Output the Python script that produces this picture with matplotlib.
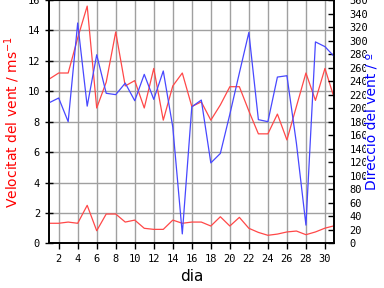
import numpy as np
from matplotlib import pyplot as plt

# days of the month
dies = list(range(1, 32))

# gust speed (m/s)
ratxa = [10.8, 11.2, 11.2, 13.5, 15.6, 8.9, 10.6, 13.9, 10.35, 10.7,
         8.9, 11.5, 8.1, 10.35, 11.2, 9.0, 9.3, 8.1, 9.1, 10.3,
         10.3, 8.7, 7.2, 7.2, 8.5, 6.8, 9.0, 11.2, 9.4, 11.5, 9.5]

# mean speed (m/s)
mitjana = [1.32, 1.32, 1.40, 1.32, 2.5, 0.83, 1.93, 1.93, 1.40, 1.53,
           0.99, 0.92, 0.92, 1.53, 1.32, 1.40, 1.40, 1.14, 1.75, 1.14,
           1.71, 0.99, 0.72, 0.53, 0.61, 0.75, 0.81, 0.57, 0.75, 1.0, 1.16]

# direction (degrees)
direccio = [208, 215, 180, 326, 203, 279, 222, 220, 237, 211,
            250, 213, 255, 172, 14, 202, 212, 119, 133, 191,
            252, 312, 183, 180, 246, 248, 148, 27, 298, 291, 276]

vermell = '#ff4848'
blau = '#4848ff'

fig = plt.figure(figsize=(3.84, 2.88), dpi=100)
ax = fig.add_axes([0.128, 0.155, 0.743, 0.845])

ax.plot(dies, ratxa, color=vermell, lw=0.9)
ax.plot(dies, mitjana, color=vermell, lw=0.9)
ax.set_xlim(1, 31)
ax.set_ylim(0, 16)
ax.set_xticks(range(2, 31, 2))
ax.set_yticks(range(0, 17, 2))
ax.grid(True, color='#a0a0a0', lw=1.0)
ax.set_axisbelow(True)

mono = 'DejaVu Sans Mono'
for lab in ax.get_xticklabels() + ax.get_yticklabels():
    lab.set_family(mono)
    lab.set_fontsize(7.5)
ax.tick_params(axis='x', direction='out', length=4, width=1, top=True)
ax.tick_params(axis='y', direction='inout', length=6, width=1)
ax.set_xlabel('dia', fontsize=11, labelpad=4)
ax.set_ylabel('Velocitat del vent / ms$^{-1}$', color='red', fontsize=10, labelpad=4)

ax2 = ax.twinx()
ax2.plot(dies, direccio, color=blau, lw=0.9)
ax2.set_ylim(0, 360)
ax2.set_yticks(range(0, 361, 20))
for lab in ax2.get_yticklabels():
    lab.set_family(mono)
    lab.set_fontsize(7.5)
ax2.tick_params(axis='y', direction='in', length=4, width=1, pad=11)
ax2.set_ylabel('Direcció del vent / º', color='blue', fontsize=10,
               bbox=dict(facecolor='white', edgecolor='none', pad=0))
ax2.yaxis.set_label_coords(1.11, 0.5)

for a in (ax, ax2):
    for s in a.spines.values():
        s.set_linewidth(1.2)

fig.savefig('out.png', dpi=100)
